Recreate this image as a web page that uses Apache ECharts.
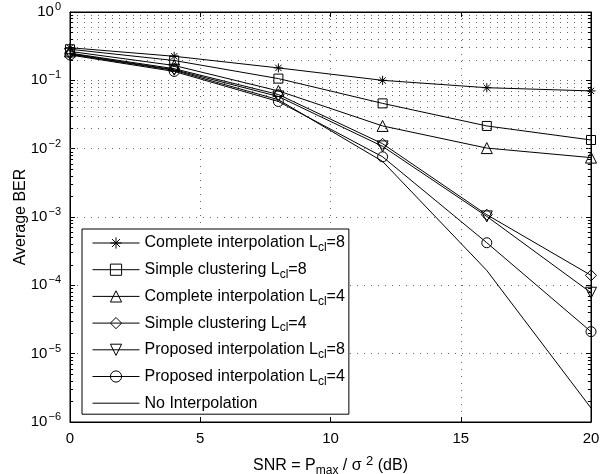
<!DOCTYPE html>
<html>
<head>
<meta charset="utf-8">
<script src="https://cdn.jsdelivr.net/npm/echarts@6/dist/echarts.min.js"></script>
<style>html,body{margin:0;padding:0;background:#fff}#c{width:608px;height:474px}</style>
</head>
<body>
<div id="c"></div>
<script>
var snr = [0, 4, 8, 12, 16, 20];
var complete8 = [0.30, 0.225, 0.152, 0.100, 0.078, 0.070];
var simple8 = [0.285, 0.195, 0.106, 0.046, 0.0215, 0.0134];
var complete4 = [0.265, 0.165, 0.070, 0.0215, 0.0102, 0.0074];
var simple4 = [0.250, 0.148, 0.062, 0.0118, 0.00108, 0.000140];
var proposed8 = [0.245, 0.143, 0.058, 0.0108, 0.00102, 0.000078];
var proposed4 = [0.235, 0.135, 0.049, 0.0076, 0.00042, 0.0000210];
var noInterp = [0.240, 0.140, 0.052, 0.0065, 0.000165, 0.0000016];
var xTicks = [0, 5, 10, 15, 20];

var names = [
  'Complete interpolation Lcl=8',
  'Simple clustering Lcl=8',
  'Complete interpolation Lcl=4',
  'Simple clustering Lcl=4',
  'Proposed interpolation Lcl=8',
  'Proposed interpolation Lcl=4',
  'No Interpolation'
];
var legendRich = {
  'Complete interpolation Lcl=8': '{t|Complete interpolation L}{sub|cl}{t|=8}',
  'Simple clustering Lcl=8': '{t|Simple clustering L}{sub|cl}{t|=8}',
  'Complete interpolation Lcl=4': '{t|Complete interpolation L}{sub|cl}{t|=4}',
  'Simple clustering Lcl=4': '{t|Simple clustering L}{sub|cl}{t|=4}',
  'Proposed interpolation Lcl=8': '{t|Proposed interpolation L}{sub|cl}{t|=8}',
  'Proposed interpolation Lcl=4': '{t|Proposed interpolation L}{sub|cl}{t|=4}',
  'No Interpolation': '{t|No Interpolation}'
};
var seriesData = [complete8, simple8, complete4, simple4, proposed8, proposed4, noInterp];
var symbols = [
  'path://M5,0L5,10M0,5L10,5M1.5,1.5L8.5,8.5M1.5,8.5L8.5,1.5',
  'rect', 'triangle', 'diamond', 'triangle', 'circle', 'circle'
];
var symSizes = [9, 9, 11, 11, 11, 10, 0];
var symRot = [0, 0, 0, 0, 180, 0, 0];

var minorVals = [];
for (var k = -6; k < 0; k++) {
  for (var m = 2; m <= 9; m++) minorVals.push(m * Math.pow(10, k));
}

var font = 'Liberation Sans, Arial, Helvetica, sans-serif';
var dotted = {color: '#666', width: 1, type: [1, 6]};

var series = names.map(function (n, i) {
  return {
    name: n,
    type: 'line',
    data: snr.map(function (x, j) { return [x, seriesData[i][j]]; }),
    symbol: symbols[i],
    symbolSize: symSizes[i],
    symbolRotate: symRot[i],
    showSymbol: i !== 6,
    lineStyle: {color: '#000', width: 1},
    itemStyle: i === 6 ? {color: 'rgba(0,0,0,0)', borderColor: 'rgba(0,0,0,0)', borderWidth: 0}
                       : {color: 'rgba(0,0,0,0)', borderColor: '#000', borderWidth: 1},
    emphasis: {disabled: true},
    z: 5
  };
});
// minor grid lines (dotted)
series.push({
  type: 'line',
  data: [],
  silent: true,
  z: 1,
  markLine: {
    silent: true,
    symbol: 'none',
    label: {show: false},
    lineStyle: dotted,
    emphasis: {disabled: true},
    data: minorVals.map(function (v) { return {yAxis: v}; })
  }
});
// minor ticks on left and right edges
var tickSegs = [];
minorVals.forEach(function (v) {
  tickSegs.push([{coord: [0, v]}, {coord: [0.12, v]}]);
  tickSegs.push([{coord: [19.88, v]}, {coord: [20, v]}]);
});
series.push({
  type: 'line',
  data: [],
  silent: true,
  z: 6,
  markLine: {
    silent: true,
    symbol: 'none',
    label: {show: false},
    lineStyle: {color: '#000', width: 1, type: 'solid'},
    emphasis: {disabled: true},
    data: tickSegs
  }
});

var chart = echarts.init(document.getElementById('c'), null, {renderer: 'canvas'});
chart.setOption({
  animation: false,
  backgroundColor: '#fff',
  grid: {left: 70, right: 17, top: 12, bottom: 52, show: true, borderColor: '#000', borderWidth: 1,
         containLabel: false, outerBoundsMode: 'none'},
  xAxis: [{
    type: 'value', min: 0, max: 20, interval: 5,
    axisLine: {show: true, onZero: false, lineStyle: {color: '#000', width: 1}},
    axisTick: {show: true, inside: true, length: 5, lineStyle: {color: '#000'}},
    axisLabel: {color: '#000', fontSize: 15, fontFamily: font, margin: 9,
      formatter: function (v) { return xTicks.indexOf(v) >= 0 ? String(v) : ''; }},
    splitLine: {show: true, lineStyle: dotted},
    name: '{t|SNR = P}{sub|max}{t| / σ }{sup|2}{t| (dB)}',
    nameLocation: 'middle', nameGap: 32, nameMoveOverlap: false,
    nameTextStyle: {color: '#000', fontSize: 16, fontFamily: font,
      rich: {
        t: {fontSize: 16, fontFamily: font, color: '#000'},
        sub: {fontSize: 12, fontFamily: font, color: '#000', padding: [11, 0, 0, 0]},
        sup: {fontSize: 13, fontFamily: font, color: '#000', padding: [0, 0, 9, 0]}
      }}
  }, {
    type: 'value', min: 0, max: 20, interval: 5, position: 'top',
    axisLine: {show: true, onZero: false, lineStyle: {color: '#000'}},
    axisTick: {show: true, inside: true, length: 5, lineStyle: {color: '#000'}},
    axisLabel: {show: false}, splitLine: {show: false}
  }],
  yAxis: [{
    type: 'log', logBase: 10, min: 1e-6, max: 1,
    axisLine: {show: true, onZero: false, lineStyle: {color: '#000', width: 1}},
    axisTick: {show: true, inside: true, length: 5, lineStyle: {color: '#000'}},
    axisLabel: {color: '#000', fontFamily: font, margin: 9,
      formatter: function (v) {
        var e = Math.round(Math.log10(v));
        return '{b|10}{s|' + (e < 0 ? '\u2212' + (-e) : e) + '}';
      },
      rich: {
        b: {fontSize: 15, fontFamily: font, color: '#000'},
        s: {fontSize: 11, fontFamily: font, color: '#000', padding: [0, 0, 10, 1]}
      }},
    splitLine: {show: true, lineStyle: dotted},
    name: 'Average BER', nameLocation: 'middle', nameGap: 41, nameRotate: 90, nameMoveOverlap: false,
    nameTextStyle: {color: '#000', fontSize: 16, fontFamily: font}
  }, {
    type: 'log', logBase: 10, min: 1e-6, max: 1, position: 'right',
    axisLine: {show: true, onZero: false, lineStyle: {color: '#000'}},
    axisTick: {show: true, inside: true, length: 5, lineStyle: {color: '#000'}},
    axisLabel: {show: false}, splitLine: {show: false}
  }],
  legend: {
    orient: 'vertical', left: 82, top: 229,
    data: names,
    backgroundColor: '#fff', borderColor: '#000', borderWidth: 1,
    padding: [6, 4, 3, 10],
    itemWidth: 47, itemHeight: 14, itemGap: 7.7,
    selectedMode: false,
    lineStyle: {width: 1},
    itemStyle: {borderWidth: 1},
    formatter: function (n) { return legendRich[n]; },
    textStyle: {color: '#000', fontSize: 16, fontFamily: font,
      rich: {
        t: {fontSize: 16, fontFamily: font, color: '#000'},
        sub: {fontSize: 12, fontFamily: font, color: '#000', padding: [10, 0, 0, 0]}
      }}
  },
  series: series
});
</script>
</body>
</html>
